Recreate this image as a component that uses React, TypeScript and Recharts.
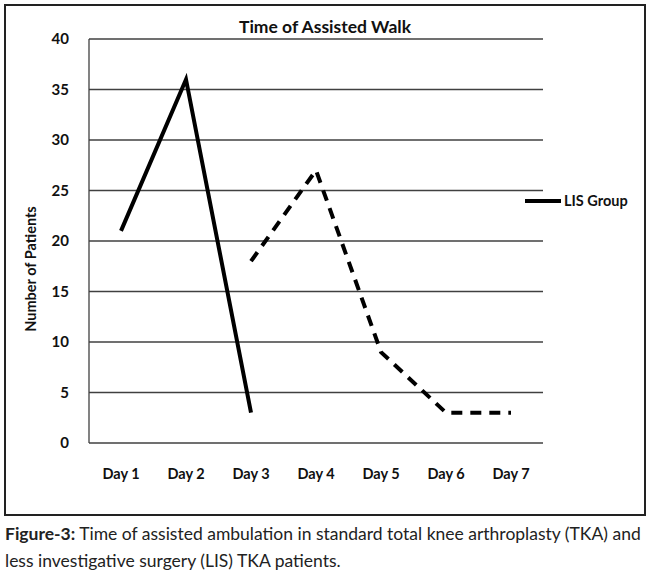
import { LineChart, Line, XAxis, YAxis, CartesianGrid } from "recharts";

const days = ["Day 1", "Day 2", "Day 3", "Day 4", "Day 5", "Day 6", "Day 7"];
const lisGroup = [21, 36, 3, null, null, null, null];
const otherGroup = [null, null, 18, 27, 9, 3, 3];
const yTicks = [0, 5, 10, 15, 20, 25, 30, 35, 40];

const data = days.map((name, i) => ({
  name,
  lis: lisGroup[i],
  other: otherGroup[i],
}));

const font = "Lato, 'Open Sans', sans-serif";

export default function App() {
  return (
    <div
      style={{
        position: "absolute",
        left: 0,
        top: 0,
        width: 650,
        height: 581,
        background: "#fff",
        fontFamily: font,
      }}
    >
      <div
        style={{
          position: "absolute",
          left: 4,
          top: 4,
          width: 638,
          height: 508,
          border: "2px solid #222",
        }}
      />
      <div
        style={{
          position: "absolute",
          top: 16,
          left: 0,
          width: 650,
          textAlign: "center",
          fontWeight: 700,
          fontSize: 17.5,
          color: "#111",
        }}
      >
        Time of Assisted Walk
      </div>
      <div
        style={{
          position: "absolute",
          left: 30,
          top: 269,
          transform: "translate(-50%, -50%) rotate(-90deg)",
          fontWeight: 700,
          fontSize: 14.5,
          whiteSpace: "nowrap",
          color: "#111",
        }}
      >
        Number of Patients
      </div>
      <div style={{ position: "absolute", left: 0, top: 0 }}>
        <LineChart
          width={650}
          height={520}
          data={data}
          margin={{ top: 39, right: 107, bottom: 47, left: 39 }}
        >
          <CartesianGrid vertical={false} stroke="#404040" strokeWidth={1.3} />
          <XAxis
            dataKey="name"
            height={30}
            axisLine={false}
            tickLine={false}
            padding={{ left: 32, right: 32 }}
            tickMargin={20}
            tick={{ fill: "#111", fontSize: 14.5, fontWeight: 700, fontFamily: font }}
          />
          <YAxis
            width={50}
            domain={[0, 40]}
            ticks={yTicks}
            interval={0}
            tickLine={false}
            axisLine={{ stroke: "#404040", strokeWidth: 1.3 }}
            tickMargin={14}
            tick={{ fill: "#111", fontSize: 15, fontWeight: 700, fontFamily: font }}
          />
          <Line
            dataKey="lis"
            stroke="#000"
            strokeWidth={4}
            dot={false}
            connectNulls={false}
            isAnimationActive={false}
          />
          <Line
            dataKey="other"
            stroke="#000"
            strokeWidth={4}
            strokeDasharray="11 8"
            dot={false}
            connectNulls={false}
            isAnimationActive={false}
          />
        </LineChart>
      </div>
      <div
        style={{
          position: "absolute",
          left: 525,
          top: 192,
          display: "flex",
          alignItems: "center",
          fontWeight: 700,
          fontSize: 14.5,
          color: "#111",
        }}
      >
        <span
          style={{
            display: "inline-block",
            width: 36,
            height: 4,
            background: "#000",
            marginRight: 3,
          }}
        />
        LIS Group
      </div>
      <div
        style={{
          position: "absolute",
          left: 5,
          top: 520,
          fontFamily: font,
          fontSize: 17.5,
          lineHeight: "27px",
          color: "#222",
          whiteSpace: "nowrap",
        }}
      >
        <b>Figure-3:</b> Time of assisted ambulation in standard total knee arthroplasty (TKA) and
        <br />
        less investigative surgery (LIS) TKA patients.
      </div>
    </div>
  );
}
